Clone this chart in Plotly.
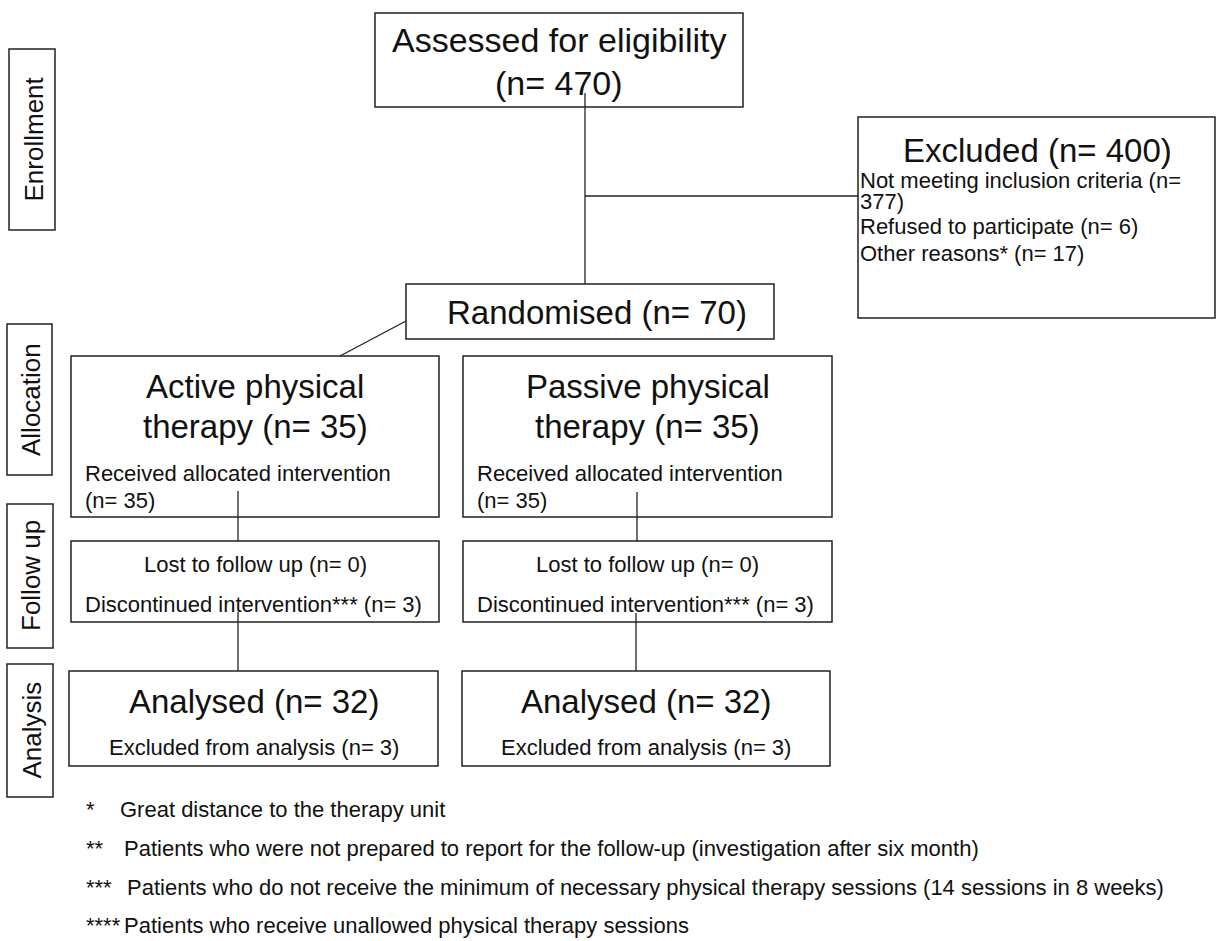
import plotly.graph_objects as go

# ---------------- data ----------------
stage_labels = ["Enrollment", "Allocation", "Follow up", "Analysis"]

assessed_n = 470
excluded_n = 400
excluded_reasons = ["Not meeting inclusion criteria (n=", "377)",
                    "Refused to participate (n= 6)", "Other reasons* (n= 17)"]
randomised_n = 70

arm_names = ["Active physical", "Passive physical"]
allocated_n = [35, 35]
received_n = [35, 35]
lost_n = [0, 0]
discontinued_n = [3, 3]
analysed_n = [32, 32]
excluded_analysis_n = [3, 3]

footnote_marks = ["*", "**", "***", "****"]
footnote_texts = [
    "Great distance to the therapy unit",
    "Patients who were not prepared to report for the follow-up (investigation after six month)",
    "Patients who do not receive the minimum of necessary physical therapy sessions (14 sessions in 8 weeks)",
    "Patients who receive unallowed physical therapy sessions",
]

# ---------------- layout helpers ----------------
W, H = 1216, 941
FONT = "Liberation Sans, Arial, Helvetica, sans-serif"
LINE = "#222222"
TXT = "#111111"
BIG = 33
SMALL = 22
LAB = 26
FOOT = 22

shapes = []
annotations = []


def box(x0, y0, x1, y1):
    shapes.append(dict(type="rect", xref="x", yref="y", x0=x0, y0=y0, x1=x1, y1=y1,
                       line=dict(color=LINE, width=1.5), fillcolor="rgba(0,0,0,0)"))


def seg(x0, y0, x1, y1):
    shapes.append(dict(type="line", xref="x", yref="y", x0=x0, y0=y0, x1=x1, y1=y1,
                       line=dict(color=LINE, width=1.3)))


def text(x, y, s, size, anchor="center", angle=0, pad=1):
    annotations.append(dict(x=x, y=y, xref="x", yref="y", text=s, showarrow=False,
                            xanchor=anchor, yanchor="middle", textangle=angle,
                            borderpad=pad,
                            font=dict(family=FONT, size=size, color=TXT)))


# stage label boxes
label_boxes = [(9, 49, 55, 230), (7, 324, 52, 475), (7, 504, 53, 648), (7, 664, 53, 797)]
for lab, (x0, y0, x1, y1) in zip(stage_labels, label_boxes):
    box(x0, y0, x1, y1)
    text((x0 + x1) / 2 + 1, (y0 + y1) / 2, lab, LAB, angle=-90)

# connecting lines
seg(585, 93, 585, 284)
seg(585, 196, 858, 196)
seg(406, 321, 340, 356)
seg(238, 491, 238, 541)
seg(637, 492, 637, 541)
seg(238, 612, 238, 671)
seg(636, 613, 636, 671)

# assessed
box(375, 13, 743, 107)
text(559, 40, "Assessed for eligibility", BIG + 1)
text(559, 83, f"(n= {assessed_n})", BIG + 1)

# excluded
box(858, 117, 1215, 318)
text(1037, 150, f"Excluded (n= {excluded_n})", BIG)
for s, yy in zip(excluded_reasons, [180, 201, 226, 253]):
    text(859, yy, s, SMALL, anchor="left", pad=0)

# randomised
box(406, 284, 774, 339)
text(597, 312, f"Randomised (n= {randomised_n})", BIG)

# arms
arm_x = [(71, 439), (463, 832)]
an_x = [(69, 438), (462, 830)]
for i in range(2):
    x0, x1 = arm_x[i]
    cx = (x0 + x1) / 2
    box(x0, 356, x1, 517)
    text(cx, 386, arm_names[i], BIG)
    text(cx, 426, f"therapy (n= {allocated_n[i]})", BIG)
    text(x0 + 12, 473, "Received allocated intervention", SMALL, anchor="left")
    text(x0 + 12, 500, f"(n= {received_n[i]})", SMALL, anchor="left")

    box(x0, 541, x1, 622)
    text(cx, 564, f"Lost to follow up (n= {lost_n[i]})", SMALL)
    text(x0 + 12, 604, f"Discontinued intervention*** (n= {discontinued_n[i]})", SMALL, anchor="left")

    a0, a1 = an_x[i]
    acx = (a0 + a1) / 2
    box(a0, 671, a1, 766)
    text(acx, 701, f"Analysed (n= {analysed_n[i]})", BIG)
    text(acx, 747, f"Excluded from analysis (n= {excluded_analysis_n[i]})", SMALL)

# footnotes
foot_y = [809, 848, 887, 925]
foot_tx = [119, 123, 126, 123]
for m, t, yy, tx in zip(footnote_marks, footnote_texts, foot_y, foot_tx):
    text(85, yy, m, FOOT, anchor="left", pad=0)
    text(tx, yy, t, FOOT, anchor="left", pad=0)

fig = go.Figure()
fig.update_layout(
    width=W, height=H, margin=dict(l=0, r=0, t=0, b=0),
    paper_bgcolor="white", plot_bgcolor="white",
    xaxis=dict(range=[0, W], visible=False, fixedrange=True),
    yaxis=dict(range=[H, 0], visible=False, fixedrange=True),
    shapes=shapes, annotations=annotations, showlegend=False,
)
fig.write_html("out.html", config={"displayModeBar": False},
               post_script="document.body.style.margin='0';document.body.style.padding='0';document.body.style.overflow='hidden';")
